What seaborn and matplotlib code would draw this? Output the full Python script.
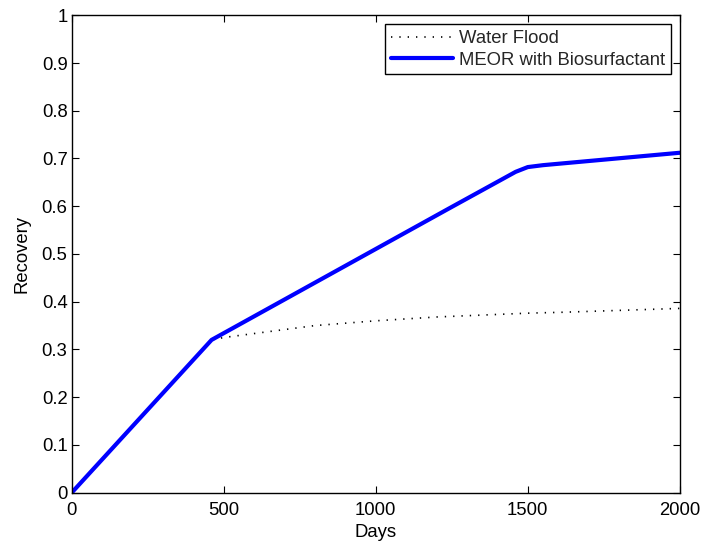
import matplotlib
matplotlib.use("Agg")
import matplotlib.pyplot as plt
import seaborn as sns
import pandas as pd

# Data
wf_days = [0, 460, 500, 800, 1000, 1200, 1500, 1620, 2000]
wf_recovery = [0.0, 0.320, 0.325, 0.350, 0.360, 0.368, 0.376, 0.378, 0.386]

meor_days = [0, 460, 1240, 1460, 1500, 1550, 2000]
meor_recovery = [0.0, 0.320, 0.595, 0.672, 0.682, 0.686, 0.712]

series_names = ["Water Flood", "MEOR with Biosurfactant"]
x_ticks = [0, 500, 1000, 1500, 2000]
y_ticks = [0, 0.1, 0.2, 0.3, 0.4, 0.5, 0.6, 0.7, 0.8, 0.9, 1]
y_tick_labels = ["0", "0.1", "0.2", "0.3", "0.4", "0.5", "0.6", "0.7", "0.8", "0.9", "1"]

sns.set_theme(style="white")
plt.rcParams["font.family"] = ["Liberation Sans", "DejaVu Sans"]

df_wf = pd.DataFrame({"Days": wf_days, "Recovery": wf_recovery})
df_meor = pd.DataFrame({"Days": meor_days, "Recovery": meor_recovery})

fig = plt.figure(figsize=(7.03, 5.45), dpi=100)
ax = fig.add_axes([0.102, 0.096, 0.865, 0.876])

dot_style = (0, (0.8, 4.2))
sns.lineplot(data=df_wf, x="Days", y="Recovery", ax=ax, color="black",
             linewidth=1.2, label=series_names[0], estimator=None, sort=False)
ax.lines[-1].set_linestyle(dot_style)
sns.lineplot(data=df_meor, x="Days", y="Recovery", ax=ax, color=(0, 0, 1),
             linewidth=3.0, label=series_names[1], estimator=None, sort=False)

ax.set_xlim(0, 2000)
ax.set_ylim(0, 1)
ax.set_xticks(x_ticks)
ax.set_xticklabels([str(t) for t in x_ticks])
ax.set_yticks(y_ticks)
ax.set_yticklabels(y_tick_labels)
ax.tick_params(direction="in", length=5, width=0.8, colors="black",
               labelsize=13.3, top=True, right=True, bottom=True, left=True)
ax.tick_params(axis="x", pad=7)
ax.tick_params(axis="y", pad=3)
for s in ax.spines.values():
    s.set_visible(True)
    s.set_color("black")
    s.set_linewidth(1.0)

ax.set_xlabel("Days", fontsize=13.3, color="black", labelpad=3)
ax.set_ylabel("Recovery", fontsize=13.3, color="black", labelpad=8)

leg = ax.legend(loc="upper right", bbox_to_anchor=(1.0, 1.0), fontsize=13.3,
                frameon=True, fancybox=False, framealpha=1, edgecolor="black",
                handlelength=3.35, borderpad=0.3, labelspacing=0.25,
                handletextpad=0.33, borderaxespad=0.5)
leg.get_frame().set_linewidth(1.0)
leg.get_lines()[0].set_linestyle(dot_style)

fig.savefig("out.png", dpi=100)
